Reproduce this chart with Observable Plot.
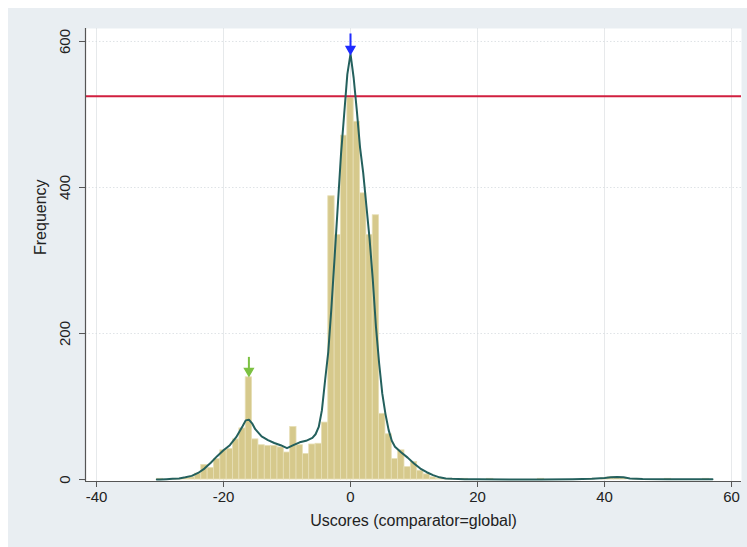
<!DOCTYPE html>
<html>
<head>
<meta charset="utf-8">
<script src="https://cdn.jsdelivr.net/npm/d3@7"></script>
<script src="https://cdn.jsdelivr.net/npm/@observablehq/plot@0.6"></script>
<style>
  html, body { margin: 0; padding: 0; background: #ffffff; }
  #bg { position: absolute; left: 8px; top: 8px; width: 739px; height: 539px; background: #e9eef2; }
  #chart { position: absolute; left: 0; top: 0; }
</style>
</head>
<body>
<div id="bg"></div>
<div id="chart"></div>
<script>
// Histogram bins (bin centre, width 1) and frequencies
const binX = [-30,-29,-28,-27,-26,-25,-24,-23,-22,-21,-20,-19,-18,-17,-16,-15,-14,-13,-12,-11,-10,-9,-8,-7,-6,-5,-4,-3,-2,-1,0,1,2,3,4,5,6,7,8,9,10,11,12,13,14,15,16,18,22,30,38,40,41,42,43,45,50,56];
const freq = [1,0,1,1,2,3,8,20,16,28,40,42,55,70,140,55,47,46,46,44,37,72,47,35,48,49,78,388,335,471,523,490,392,335,362,90,62,28,40,17,24,12,7,3,1,1,1,1,1,1,1,2,3,3,2,1,1,1];

// Kernel density curve (scaled to frequency)
const kdeX = [-30.5,-30,-29,-28,-27,-26,-25,-24,-23,-22,-21,-20,-19,-18,-17,-16.5,-16,-15.5,-15,-14,-13,-12,-11,-10,-9,-8,-7,-6,-5.5,-5,-4.5,-4,-3.5,-3,-2.5,-2,-1.5,-1,-0.5,0,0.5,1,1.5,2,2.5,3,3.5,4,4.5,5,5.5,6,6.5,7,8,9,10,11,12,13,14,15,16,18,20,25,30,35,38,40,41,42,43,44,46,50,55,57];
const kdeY = [0,0,0.5,1,1.5,3,5,9,15,23,32,40,47,58,73,81,82,77,69,59,54,50,47,43,47,51,53,57,62,72,95,136,175,236,305,375,445,500,555,583,550,505,455,420,375,330,275,210,160,118,90,68,53,45,37,30,22,15,10,6,3,1.5,1,0.5,0.3,0.2,0.2,0.5,1,2,3,3.5,3,1.5,0.8,0.5,0.5,0.3];

// Reference line (largest bar) and arrow markers
const refLine = [525];
const arrowX = [0, -16];
const arrowTop = [611, 168];
const arrowTip = [591, 150];
const arrowColor = ["#1f2bff", "#7cc142"];

const xTicks = [-40, -20, 0, 20, 40, 60];
const yTicks = [0, 200, 400, 600];
const xLabel = "Uscores (comparator=global)";
const yLabel = "Frequency";

const bins = binX.map((x, i) => ({x, f: freq[i]}));
const kde = kdeX.map((x, i) => ({x, y: kdeY[i]}));
const arrows = arrowX.map((x, i) => ({x, y1: arrowTop[i], y2: arrowTip[i], c: arrowColor[i]}));

const xDom = [-41.73, 61.57];
const yDom = [-2.7, 617.8];

const chart = Plot.plot({
  width: 747,
  height: 547,
  marginLeft: 85,
  marginRight: 6,
  marginTop: 28,
  marginBottom: 66,
  style: {background: "transparent", fontFamily: "Liberation Sans, Arial, sans-serif"},
  x: {type: "linear", domain: xDom, axis: null},
  y: {type: "linear", domain: yDom, axis: null},
  marks: [
    Plot.frame({fill: "white", stroke: null}),
    Plot.gridY(yTicks.slice(1), {stroke: "#c9d0d6", strokeOpacity: 0.6, strokeDasharray: "1.5,2"}),
    Plot.gridX(xTicks, {stroke: "#d5dade", strokeOpacity: 0.6}),
    Plot.rectY(bins, {x1: d => d.x - 0.5, x2: d => d.x + 0.5, y1: 0, y2: "f", fill: "#d6c98c", stroke: "#e7dfb6", strokeWidth: 0.8}),
    Plot.ruleY(refLine, {stroke: "#d11f3f", strokeWidth: 2}),
    Plot.line(kde, {x: "x", y: "y", stroke: "#24605d", strokeWidth: 2}),
    Plot.link(arrows, {x1: "x", x2: "x", y1: "y1", y2: "y2", stroke: "c", strokeWidth: 2}),
    Plot.dot(arrows, {x: "x", y: "y2", symbol: "triangle", rotate: 180, r: 3.2, fill: "c", stroke: "c", dy: 1}),
    // axis lines
    Plot.ruleX([xDom[0]], {stroke: "#555", strokeWidth: 1.2}),
    Plot.ruleY([yDom[0]], {stroke: "#555", strokeWidth: 1.2}),
    Plot.axisY({ticks: yTicks, tickFormat: d => String(d), tickSize: 6, tickPadding: 10, tickRotate: -90, fontSize: 15, fill: "#222", stroke: "#555", label: null}),
    Plot.axisX({ticks: xTicks, tickFormat: d => String(d), tickSize: 6, tickPadding: 4, fontSize: 15, fill: "#222", stroke: "#555", label: null}),
    Plot.text([xLabel], {frameAnchor: "bottom", dy: 44, fontSize: 16, fill: "#222", letterSpacing: "0.9px"}),
    Plot.text([yLabel], {frameAnchor: "left", dx: -45, rotate: -90, fontSize: 16, fill: "#222", letterSpacing: "0.6px"})
  ]
});
document.getElementById("chart").appendChild(chart);
</script>
</body>
</html>
